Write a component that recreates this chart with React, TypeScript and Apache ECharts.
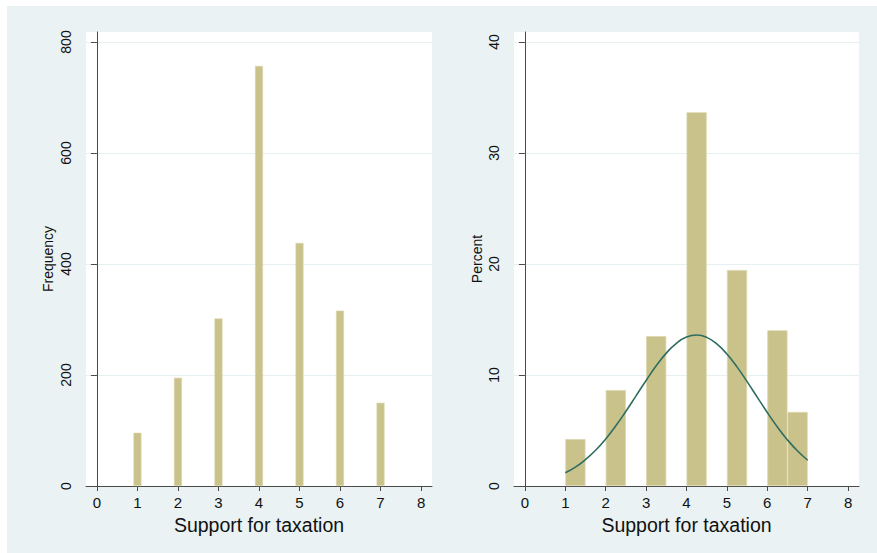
import React, { useEffect, useRef } from "react";
import * as echarts from "echarts";

// ---- data ----
const xTickValues = [0, 1, 2, 3, 4, 5, 6, 7, 8];
const xAxisTitle = "Support for taxation";

// left panel: frequency of each response
const freqCategories = [1, 2, 3, 4, 5, 6, 7];
const frequency = [96, 195, 302, 757, 438, 316, 150];
const freqTicks = [0, 200, 400, 600, 800];

// right panel: percent histogram, bins of width 0.5 (start of bin)
const binStarts = [1, 2, 3, 4, 5, 6, 6.5];
const binWidth = 0.5;
const percent = [4.23, 8.65, 13.5, 33.67, 19.46, 14.03, 6.67];
const percentTicks = [0, 10, 20, 30, 40];

// overlaid normal curve
const curveX = [1, 1.25, 1.5, 1.75, 2, 2.25, 2.5, 2.75, 3, 3.25, 3.5, 3.75, 4, 4.25, 4.5, 4.75, 5, 5.25, 5.5, 5.75, 6, 6.25, 6.5, 6.75, 7];
const curveY = [1.19, 1.7, 2.38, 3.22, 4.24, 5.42, 6.73, 8.12, 9.51, 10.83, 11.97, 12.86, 13.42, 13.6, 13.39, 12.8, 11.89, 10.73, 9.4, 8.01, 6.62, 5.32, 4.15, 3.15, 2.32];

const FONT = "Liberation Sans, Arial, Helvetica, sans-serif";
const AXIS_COLOR = "#4a4a4a";
const GRID_LINE = "#e6eff1";
const BAR_COLOR = "#c9c28b";
const BAR_BORDER = "#dcd7ad";
const CURVE_COLOR = "#2f6d60";

function xAxis(gridIndex: number) {
  return {
    type: "value",
    gridIndex,
    min: -0.27,
    max: 8.27,
    name: xAxisTitle,
    nameLocation: "middle",
    nameGap: 18,
    nameTextStyle: { fontSize: 19.5, color: "#111", fontFamily: FONT },
    axisLine: { show: true, lineStyle: { color: AXIS_COLOR, width: 1 } },
    axisTick: { show: true, length: 5, customValues: xTickValues, lineStyle: { color: AXIS_COLOR } },
    axisLabel: { customValues: xTickValues, fontSize: 15, color: "#111", fontFamily: FONT, margin: 9 },
    splitLine: { show: false },
  };
}

function yAxis(gridIndex: number, name: string, max: number, ticks: number[], gap: number) {
  return {
    type: "value",
    gridIndex,
    min: 0,
    max,
    name,
    nameLocation: "middle",
    nameGap: gap,
    nameRotate: 90,
    nameTextStyle: { fontSize: 14, color: "#111", fontFamily: FONT },
    axisLine: { show: true, lineStyle: { color: AXIS_COLOR, width: 1 } },
    axisTick: { show: true, length: 6, customValues: ticks, lineStyle: { color: AXIS_COLOR } },
    axisLabel: { customValues: ticks, rotate: 90, fontSize: 14, color: "#111", fontFamily: FONT, margin: 13 },
    splitLine: { show: true, lineStyle: { color: GRID_LINE, width: 1 } },
  };
}

export default function App() {
  const ref = useRef<HTMLDivElement>(null);
  useEffect(() => {
    if (!ref.current) return;
    const chart = echarts.init(ref.current, null, { renderer: "svg" });
    chart.setOption({
      animation: false,
      backgroundColor: "#eaf2f3",
      graphic: [
        { type: "rect", shape: { x: 0, y: 0, width: 877, height: 6 }, style: { fill: "#ffffff" }, silent: true },
        { type: "rect", shape: { x: 0, y: 0, width: 7, height: 553 }, style: { fill: "#ffffff" }, silent: true },
      ],
      grid: [
        { left: 86, top: 32, width: 346, height: 454, show: true, backgroundColor: "#ffffff", borderWidth: 0 },
        { left: 514, top: 32, width: 345, height: 454, show: true, backgroundColor: "#ffffff", borderWidth: 0 },
      ],
      xAxis: [xAxis(0), xAxis(1)],
      yAxis: [
        yAxis(0, "Frequency", 818, freqTicks, 31),
        yAxis(1, "Percent", 40.9, percentTicks, 30),
      ],
      series: [
        {
          type: "bar",
          xAxisIndex: 0,
          yAxisIndex: 0,
          barWidth: 8,
          itemStyle: { color: BAR_COLOR, borderColor: BAR_BORDER, borderWidth: 0.6 },
          data: freqCategories.map((c, i) => [c, frequency[i]]),
        },
        {
          type: "bar",
          xAxisIndex: 1,
          yAxisIndex: 1,
          barWidth: 20.2,
          itemStyle: { color: BAR_COLOR, borderColor: BAR_BORDER, borderWidth: 0.8 },
          data: binStarts.map((s, i) => [s + binWidth / 2, percent[i]]),
        },
        {
          type: "line",
          xAxisIndex: 1,
          yAxisIndex: 1,
          smooth: true,
          showSymbol: false,
          symbol: "none",
          lineStyle: { color: CURVE_COLOR, width: 1.6 },
          data: curveX.map((x, i) => [x, curveY[i]]),
          z: 5,
        },
      ],
    });
    return () => chart.dispose();
  }, []);
  return (
    <div
      ref={ref}
      style={{ position: "absolute", left: 0, top: 0, width: 877, height: 553 }}
    />
  );
}
